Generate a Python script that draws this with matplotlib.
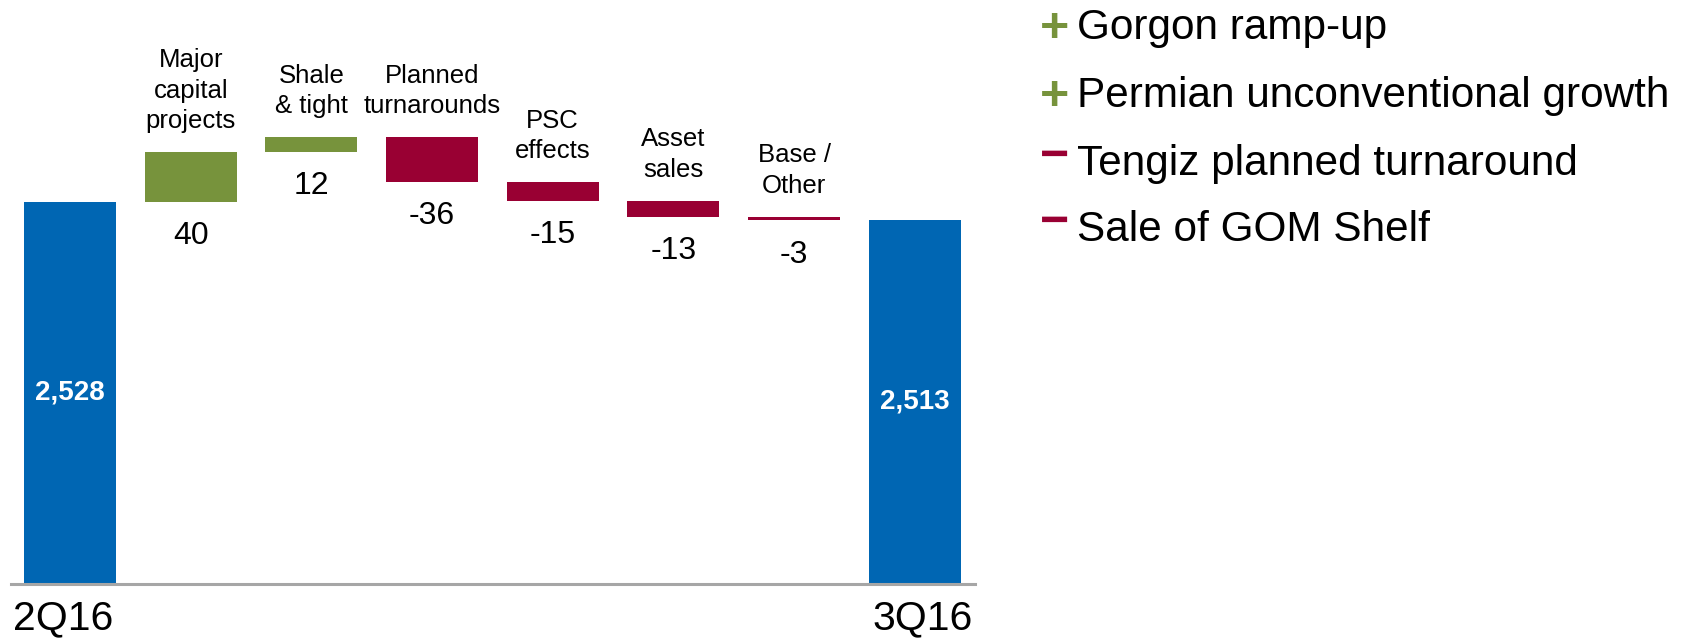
import matplotlib
matplotlib.use('Agg')
import matplotlib.pyplot as plt

plt.rcParams['font.family'] = ['Liberation Sans', 'DejaVu Sans']

# Daten der Brücke 2Q16 -> 3Q16
start_label = '2Q16'
end_label = '3Q16'
start_value = 2528
end_value = 2513
step_names = ['Major\ncapital\nprojects', 'Shale\n& tight', 'Planned\nturnarounds',
              'PSC\neffects', 'Asset\nsales', 'Base /\nOther']
step_values = [40, 12, -36, -15, -13, -3]

# Erläuterungen rechts
notes = ['Gorgon ramp-up', 'Permian unconventional growth',
         'Tengiz planned turnaround', 'Sale of GOM Shelf']
note_signs = ['+', '+', '\u2212', '\u2212']

blue = '#0066B3'
green = '#77933C'
red = '#990033'

W, H = 1684, 639
fig = plt.figure(figsize=(W / 100, H / 100), dpi=100)
ax = fig.add_axes([11 / W, 1 - 583.5 / H, (975 - 11) / W, 583.5 / H])
ymin, ymax = 2221.4, 2690.1
ax.set_ylim(ymin, ymax)
ax.set_xlim(-0.49, len(step_values) + 1.5)
bw = 0.763

# Anfangs- und Endbalken
n = len(step_values)
for x, v in [(0, start_value), (n + 1, end_value)]:
    ax.bar(x, v, width=bw, color=blue, zorder=1)
    ax.text(x, (ymin + v) / 2, f'{v:,}', ha='center', va='center',
            color='white', fontsize=20, fontweight='bold')

# Veränderungen
level = start_value
for i, (name, d) in enumerate(zip(step_names, step_values), start=1):
    lo = min(level, level + d)
    hi = max(level, level + d)
    ax.bar(i, hi - lo, bottom=lo, width=bw, color=green if d > 0 else red, zorder=1)
    ax.annotate(name, xy=(i, hi), xytext=(0, 17), textcoords='offset points',
                ha='center', va='baseline', fontsize=18.5, linespacing=1.35)
    ax.annotate(str(d), xy=(i, lo), xytext=(0, -14), textcoords='offset points',
                ha='center', va='top', fontsize=23)
    level += d

for s in ['top', 'left', 'right']:
    ax.spines[s].set_visible(False)
ax.spines['bottom'].set_color('#A6A6A6')
ax.spines['bottom'].set_linewidth(2.2)
ax.set_yticks([])
ax.set_xticks([])
ax.text(0.002, -0.028, start_label, transform=ax.transAxes, ha='left', va='top', fontsize=29.5)
ax.text(0.998, -0.028, end_label, transform=ax.transAxes, ha='right', va='top', fontsize=29.5)

# Legende als Text
baselines = [39, 107, 174.5, 241]
sign_centers = [28.5, 96.5, 156.5, 223]
for note, sign, yb, yc in zip(notes, note_signs, baselines, sign_centers):
    fig.text(1077 / W, 1 - yb / H, note, ha='left', va='baseline', fontsize=30.4)
    fig.text(1055 / W, 1 - yc / H, sign, ha='center', va='center', fontsize=36,
             fontweight='bold', color=green if sign == '+' else red)

fig.savefig('out.png', dpi=100)
